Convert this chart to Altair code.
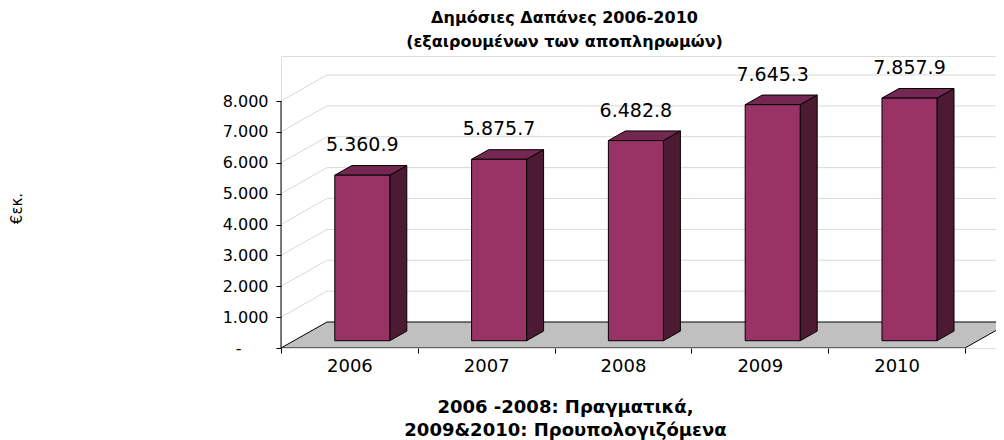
import altair as alt
import pandas as pd

# ---------------- data ----------------
years = ["2006", "2007", "2008", "2009", "2010"]
values = [5360.9, 5875.7, 6482.8, 7645.3, 7857.9]
y_ticks = [0, 1000, 2000, 3000, 4000, 5000, 6000, 7000, 8000]
title_lines = ["Δημόσιες Δαπάνες 2006-2010", "(εξαιρουμένων των αποπληρωμών)"]
caption_lines = ["2006 -2008: Πραγματικά,", "2009&2010: Προυπολογιζόμενα"]
y_title = "€εκ."

# ---------------- geometry (pseudo 3-D projection) ----------------
W, H = 715, 292                # plot area in px
PX_X = 136.8                   # px per category band
PX_Y = 0.030875                # px per value unit
XMAX = W / PX_X
YMAX = H / PX_Y
DX = 46 / PX_X                 # depth offset of back wall (x)
DY = 26 / PX_Y                 # depth offset of back wall (y)
F0 = 0.28                      # depth fraction of bar front face
FB = 0.37                      # depth fraction of bar thickness
BW = 55 / PX_X                 # bar width

FRONT = "#993366"
SIDE = "#4D1A33"
TOP = "#742750"
GRID = "#D9D9D9"
FONT = "DejaVu Sans"

def fmt(v):
    return f"{v:,.1f}".replace(",", ".")

bars, side, top = [], [], []
for i, (yr, v) in enumerate(zip(years, values)):
    c = i + 0.5 + F0 * DX
    xl, xr = c - BW / 2, c + BW / 2
    yb, yt = F0 * DY, v + F0 * DY
    bars.append(dict(year=yr, xl=xl, xr=xr, yb=yb, yt=yt, xc=c, label=fmt(v)))
    side.append(dict(year=yr, x=xr, y=yt, y2=yb))
    side.append(dict(year=yr, x=xr + FB * DX, y=yt + FB * DY, y2=yb + FB * DY))
    top.append(dict(year=yr, y=yt, x=xl, x2=xr))
    top.append(dict(year=yr, y=yt + FB * DY, x=xl + FB * DX, x2=xr + FB * DX))

bars_df = pd.DataFrame(bars)
side_df = pd.DataFrame(side)
top_df = pd.DataFrame(top)
floor_df = pd.DataFrame([
    dict(y=0, x=0, x2=len(years)),
    dict(y=DY, x=DX, x2=len(years) + DX),
])
grid_ticks = [t for t in y_ticks if t > 0]
left_grid = pd.DataFrame([dict(x=0, x2=DX, y=t, y2=t + DY) for t in grid_ticks])
back_grid = pd.DataFrame([dict(x=DX, x2=XMAX, y=t + DY) for t in grid_ticks])
yaxis_df = pd.DataFrame([dict(x=0, y=0, y2=max(y_ticks))])

xs = alt.Scale(domain=[0, XMAX], nice=False, zero=False)
ys = alt.Scale(domain=[0, YMAX], nice=False, zero=False)

year_expr = "[" + ",".join(f"'{y}'" for y in years) + "]"
X_AXIS = alt.Axis(
    values=list(range(len(years) + 1)), domain=False, grid=False,
    tickSize=5, tickColor="black", tickWidth=1,
    labelOffset=PX_X / 2, labelOverlap=False, labelFlush=False, labelBound=False,
    labelExpr=f"datum.value < {len(years)} ? {year_expr}[datum.value] : ''",
    labelFont=FONT, labelFontSize=18, labelColor="black", labelPadding=4,
    title=caption_lines, titleFont=FONT, titleFontSize=18, titleFontWeight="bold",
    titleColor="black", titleX=284, titleY=50, titleAlign="center",
    titleBaseline="top", titleLineHeight=23, titleAnchor="start",
)
Y_AXIS = alt.Axis(
    values=y_ticks, domain=False, grid=False,
    tickSize=5, tickColor="black", tickWidth=1,
    labelExpr="datum.value == 0 ? '-' : replace(format(datum.value, ','), ',', '.')",
    labelFont=FONT, labelFontSize=16, labelColor="black",
    labelPadding={"condition": {"test": "datum.value == 0", "value": 35}, "value": 8},
    title=y_title, titleFont=FONT, titleFontSize=15, titleFontWeight="normal",
    titleColor="black", titleX=-265, titleY=152, titleAngle=270,
    titleAlign="center", titleBaseline="middle", titleAnchor="start",
)


def X(field):
    return alt.X(field, scale=xs, axis=X_AXIS)


def Y(field):
    return alt.Y(field, scale=ys, axis=Y_AXIS, stack=None)


axis_line = alt.Chart(yaxis_df).mark_rule(color="black", strokeWidth=1).encode(
    x=X("x:Q"), y=Y("y:Q"), y2="y2:Q",
)
lg = alt.Chart(left_grid).mark_rule(color=GRID, strokeWidth=1).encode(
    x=X("x:Q"), x2="x2:Q", y=Y("y:Q"), y2="y2:Q",
)
bg = alt.Chart(back_grid).mark_rule(color=GRID, strokeWidth=1, clip=True).encode(
    x=X("x:Q"), x2="x2:Q", y=Y("y:Q"),
)
floor = alt.Chart(floor_df).mark_area(
    orient="horizontal", color="#C0C0C0", stroke="black", strokeWidth=1, clip=True
).encode(
    y=Y("y:Q"), x=X("x:Q"), x2="x2:Q",
)
side_l = alt.Chart(side_df).mark_area(
    orient="vertical", color=SIDE, stroke="black", strokeWidth=1
).encode(
    x=X("x:Q"), y=Y("y:Q"), y2="y2:Q", detail="year:N",
)
top_l = alt.Chart(top_df).mark_area(
    orient="horizontal", color=TOP, stroke="black", strokeWidth=1
).encode(
    y=Y("y:Q"), x=X("x:Q"), x2="x2:Q", detail="year:N",
)
front_l = alt.Chart(bars_df).mark_rect(color=FRONT, stroke="black", strokeWidth=1).encode(
    x=X("xl:Q"), x2="xr:Q", y=Y("yb:Q"), y2="yt:Q",
)
labels = alt.Chart(bars_df).mark_text(
    font=FONT, fontSize=19, color="black", baseline="middle", align="center", dy=-30
).encode(
    x=X("xc:Q"), y=Y("yt:Q"), text="label:N",
)

chart = alt.layer(
    lg, bg, floor, axis_line, side_l, top_l, front_l, labels
).properties(
    width=W, height=H,
    autosize=alt.AutoSizeParams(type="none"),
    padding={"left": 273, "top": 48, "right": 0, "bottom": 92},
    title=alt.TitleParams(
        text=title_lines, font=FONT, fontSize=16, fontWeight="bold", color="black",
        anchor="middle", frame="group", dx=-74, offset=6, lineHeight=24,
    ),
).configure_view(strokeWidth=0).configure(background="white")

chart.save("out.html", embed_options={"renderer": "svg", "actions": False})
